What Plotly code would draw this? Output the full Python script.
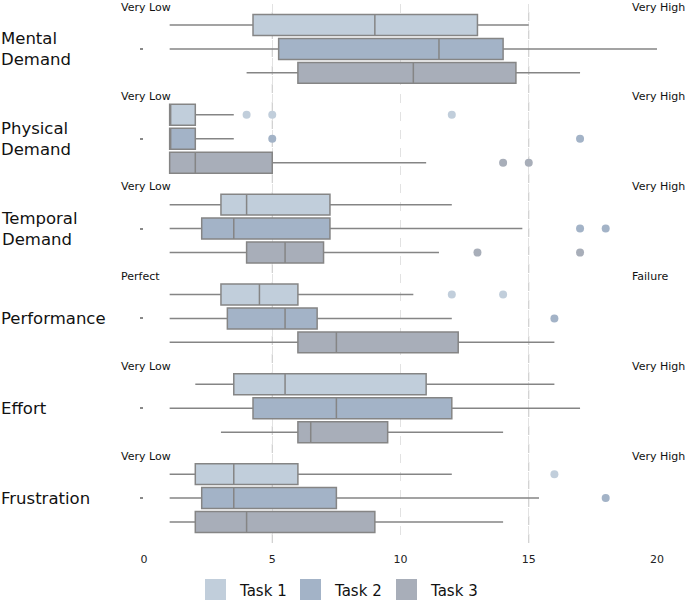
import plotly.graph_objects as go

categories = ["Mental<br>Demand", "Physical<br>Demand", "Temporal<br>Demand",
              "Performance", "Effort", "Frustration"]
low_labels = ["Very Low", "Very Low", "Very Low", "Perfect", "Very Low", "Very Low"]
high_labels = ["Very High", "Very High", "Very High", "Failure", "Very High", "Very High"]
tasks = ["Task 1", "Task 2", "Task 3"]

# per task: lists over categories
lowerfence = {
    "Task 1": [1.0, 1.0, 1.0, 1.0, 2.0, 1.0],
    "Task 2": [1.0, 1.0, 1.0, 1.0, 1.0, 1.0],
    "Task 3": [4.0, 1.0, 1.0, 1.0, 3.0, 1.0],
}
q1 = {
    "Task 1": [4.25, 1.0, 3.0, 3.0, 3.5, 2.0],
    "Task 2": [5.25, 1.0, 2.25, 3.25, 4.25, 2.25],
    "Task 3": [6.0, 1.0, 4.0, 6.0, 6.0, 2.0],
}
median = {
    "Task 1": [9.0, 1.0, 4.0, 4.5, 5.5, 3.5],
    "Task 2": [11.5, 1.0, 3.5, 5.5, 7.5, 3.5],
    "Task 3": [10.5, 2.0, 5.5, 7.5, 6.5, 4.0],
}
q3 = {
    "Task 1": [13.0, 2.0, 7.25, 6.0, 11.0, 6.0],
    "Task 2": [14.0, 2.0, 7.25, 6.75, 12.0, 7.5],
    "Task 3": [14.5, 5.0, 7.0, 12.25, 9.5, 9.0],
}
upperfence = {
    "Task 1": [15.0, 3.5, 12.0, 10.5, 16.0, 12.0],
    "Task 2": [20.0, 3.5, 14.75, 12.0, 17.0, 15.4],
    "Task 3": [17.0, 11.0, 11.5, 16.0, 14.0, 14.0],
}
outliers = {
    "Task 1": [[], [4.0, 5.0, 12.0], [], [12.0, 14.0], [], [16.0]],
    "Task 2": [[], [5.0, 17.0], [17.0, 18.0], [16.0], [], [18.0]],
    "Task 3": [[], [14.0, 15.0], [13.0, 17.0], [], [], []],
}
colors = {"Task 1": "#c1cedb", "Task 2": "#a3b3c7", "Task 3": "#a8aeb9"}
x_ticks = [0, 5, 10, 15, 20]
x_range = [0, 20]

W, H = 685, 601
ML, MR, MT, MB = 144, 28, 4, 58
PW, PH = W - ML - MR, H - MT - MB

n_cat = len(categories)
slot = 0.8 / len(tasks)          # each task's slot within a category
box_w = slot * 0.875


def xpaper(v):
    return (v - x_range[0]) / (x_range[1] - x_range[0])


fig = go.Figure()
for k, t in enumerate(tasks):
    pos = [i + (k - (len(tasks) - 1) / 2) * slot for i in range(n_cat)]
    fig.add_trace(go.Box(
        name=t, y=pos,
        q1=q1[t], median=median[t], q3=q3[t],
        lowerfence=lowerfence[t], upperfence=upperfence[t],
        orientation="h", width=box_w,
        fillcolor=colors[t],
        line=dict(color="#858585", width=1.5),
        whiskerwidth=0, boxpoints=False,
        showlegend=False, hoverinfo="skip",
    ))
    ox, oy = [], []
    for i in range(n_cat):
        for v in outliers[t][i]:
            ox.append(v)
            oy.append(pos[i])
    fig.add_trace(go.Scatter(
        x=ox, y=oy, mode="markers",
        marker=dict(color=colors[t], size=8, line=dict(width=0)),
        showlegend=False, hoverinfo="skip",
    ))

fig.update_layout(
    width=W, height=H,
    margin=dict(l=ML, r=MR, t=MT, b=MB),
    paper_bgcolor="white", plot_bgcolor="white",
    font=dict(family="DejaVu Sans", color="#222"),
    showlegend=False,
)
fig.update_xaxes(
    range=x_range, tickvals=x_ticks, showgrid=True, griddash="dash",
    gridcolor="#e2e2e2", gridwidth=1, zeroline=False, showline=False,
    ticks="", tickfont=dict(size=11, color="#222"), ticklabelstandoff=8,
)
fig.update_yaxes(
    range=[n_cat - 0.5, -0.5], tickvals=list(range(n_cat)),
    showgrid=False, zeroline=False, showline=False,
    showticklabels=False, ticks="outside", ticklen=3, tickwidth=1.5,
    tickcolor="#888",
)

# darker dashed guides at 5 and 15
for xv in [5, 15]:
    fig.add_shape(type="line", xref="x", yref="paper", x0=xv, x1=xv, y0=0, y1=1,
                  line=dict(color="#c4c4c4", width=1, dash="dash"), layer="below")

# category labels and anchor labels
for i, c in enumerate(categories):
    fig.add_annotation(xref="paper", yref="y", x=-ML / PW, y=i, text=c,
                       showarrow=False, xanchor="left", yanchor="middle", align="left",
                       borderpad=0, font=dict(size=16.5, color="#111"))
    fig.add_annotation(xref="paper", yref="y", x=xpaper(-0.95), y=i - 0.465,
                       text=low_labels[i], showarrow=False, xanchor="left",
                       yanchor="middle", borderpad=0, font=dict(size=11, color="#111"))
    fig.add_annotation(xref="paper", yref="y", x=xpaper(19.0), y=i - 0.465,
                       text=high_labels[i], showarrow=False, xanchor="left",
                       yanchor="middle", borderpad=0, font=dict(size=11, color="#111"))

# manual legend with large square swatches
legend_x = [205, 300, 396]
for t, lx in zip(tasks, legend_x):
    x0 = (lx - ML) / PW
    x1 = (lx + 21 - ML) / PW
    y0 = (H - MB - 600) / PH
    y1 = (H - MB - 579) / PH
    fig.add_shape(type="rect", xref="paper", yref="paper", x0=x0, x1=x1, y0=y0, y1=y1,
                  fillcolor=colors[t], line=dict(width=0))
    fig.add_annotation(xref="paper", yref="paper", x=(lx + 33 - ML) / PW,
                       y=(H - MB - 591) / PH, text=t, showarrow=False,
                       xanchor="left", yanchor="middle", borderpad=0,
                       font=dict(size=15, color="#111"))

fig.write_html(
    "out.html",
    config={"displayModeBar": False},
    post_script="document.body.style.margin='0';document.body.style.overflow='hidden';",
)
